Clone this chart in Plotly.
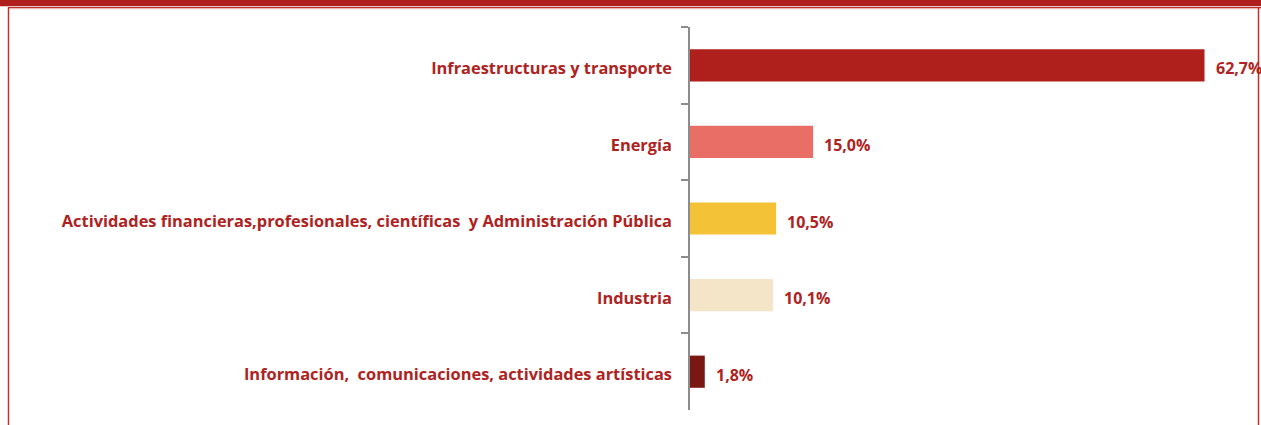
import plotly.graph_objects as go

categories = [
    "Infraestructuras y transporte",
    "Energía",
    "Actividades financieras,profesionales, científicas  y Administración Pública",
    "Industria",
    "Información,  comunicaciones, actividades artísticas",
]
values = [62.7, 15.0, 10.5, 10.1, 1.8]
labels = ["62,7%", "15,0%", "10,5%", "10,1%", "1,8%"]
colors = ["#AF201C", "#E96E66", "#F4C237", "#F4E4C8", "#7B1712"]

W, H = 1261, 425
ML, MR, MT, MB = 690, 13, 27, 15
PW, PH = W - ML - MR, H - MT - MB
TXT = "#AE2321"
FONT = "Open Sans"
FS = 16.4

def px(x):
    return (x - ML) / PW

def py(y):
    return 1 - (y - MT) / PH

fig = go.Figure(go.Bar(
    y=categories, x=values, orientation="h",
    marker=dict(color=colors, line=dict(width=0)),
    hoverinfo="skip",
))

for c, v, t in zip(categories, values, labels):
    fig.add_annotation(x=v, y=c, text="<b>%s</b>" % t, showarrow=False,
                       xanchor="left", xshift=9, yshift=-3,
                       font=dict(family=FONT, size=16, color=TXT))

shapes = [
    dict(type="rect", xref="paper", yref="paper", x0=px(0), x1=px(W), y0=py(0), y1=py(6.3),
         fillcolor="#AF201C", line=dict(width=0), layer="below"),
    dict(type="line", xref="paper", yref="paper", x0=px(8), x1=px(W), y0=py(7.5), y1=py(7.5),
         line=dict(color="#B8302B", width=1.2)),
    dict(type="line", xref="paper", yref="paper", x0=px(9), x1=px(W), y0=py(8.7), y1=py(8.7),
         line=dict(color="#E8A9A5", width=1)),
    dict(type="line", xref="paper", yref="paper", x0=px(8.5), x1=px(8.5), y0=py(7.5), y1=py(H),
         line=dict(color="#C0302B", width=1.5)),
    dict(type="line", xref="paper", yref="paper", x0=px(1258.5), x1=px(1258.5), y0=py(7.5), y1=py(H),
         line=dict(color="#C0302B", width=1.5)),
]

fig.update_layout(
    width=W, height=H,
    margin=dict(l=ML, r=MR, t=MT, b=MB),
    paper_bgcolor="white", plot_bgcolor="white",
    bargap=0.58,
    showlegend=False,
    shapes=shapes,
    xaxis=dict(range=[0, 68], visible=False, fixedrange=True),
    yaxis=dict(
        autorange="reversed", type="category",
        showline=True, linecolor="#8C8C8C", linewidth=1.5,
        ticks="outside", tickson="boundaries", ticklen=7, tickcolor="#8C8C8C", tickwidth=1.5,
        ticklabelstandoff=13, ticklabelshift=-3,
        tickfont=dict(family=FONT, size=FS, color=TXT, weight="bold"),
        showgrid=False, zeroline=False, fixedrange=True,
    ),
)

fig.write_html("out.html", config={"displayModeBar": False},
               post_script="document.body.style.margin='0';document.body.style.overflow='hidden';")
